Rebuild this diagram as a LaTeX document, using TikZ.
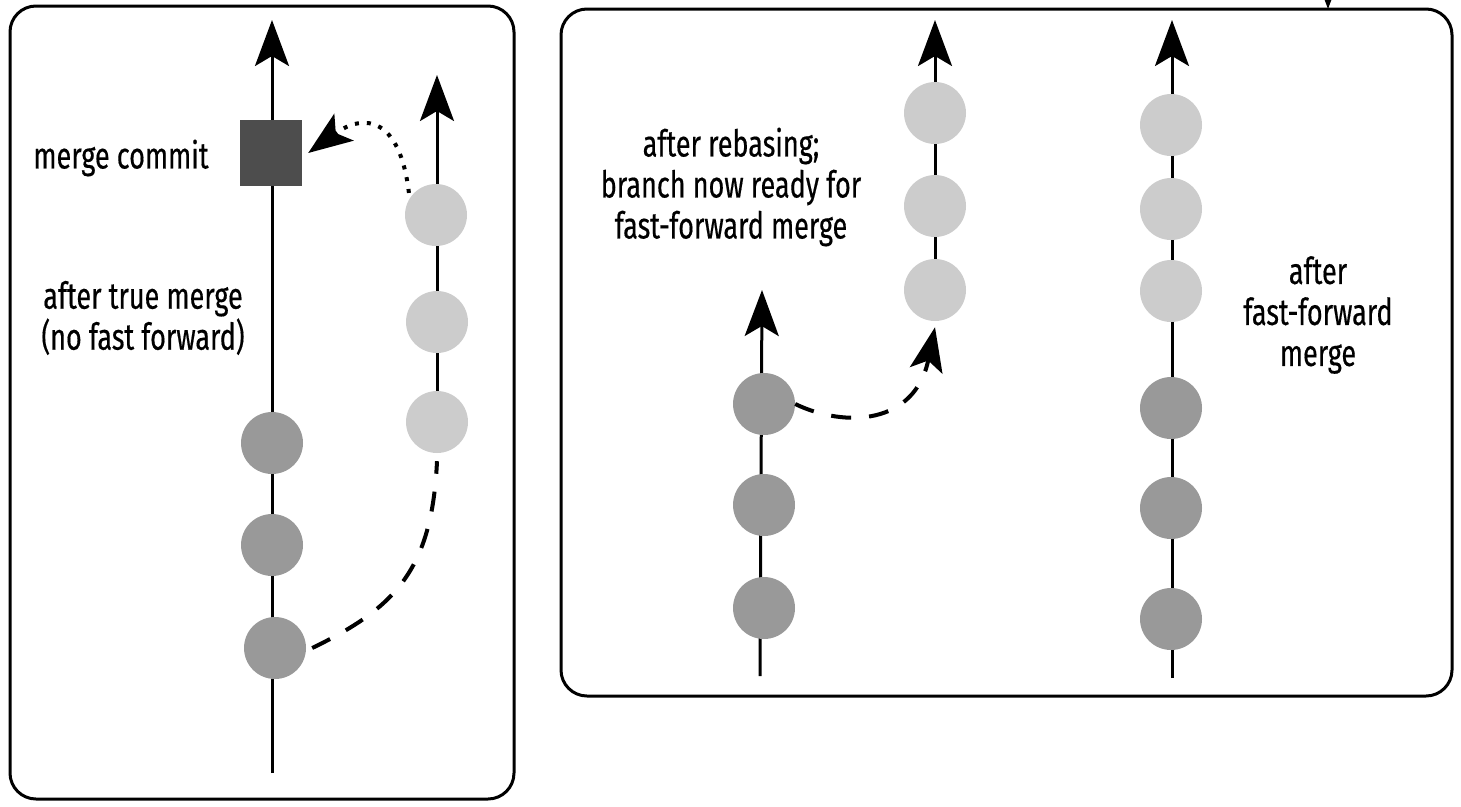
\documentclass[tikz,border=0pt]{standalone}
\usepackage{fontspec}
\setmainfont[FakeStretch=0.73, FakeBold=0.4]{Fira Sans}
\usepackage{xcolor}
\usetikzlibrary{arrows.meta}

\definecolor{oldgray}{HTML}{999999}
\definecolor{newgray}{HTML}{CCCCCC}
\definecolor{mergegray}{HTML}{4D4D4D}

\tikzset{
  panel/.style={draw, line width=3pt, rounded corners=26pt},
  history/.style={line width=3pt, -{Stealth[length=46pt, width=34pt, inset=10pt]}},
  oldcommit/.style={circle, fill=oldgray, minimum size=62pt, inner sep=0pt},
  newcommit/.style={circle, fill=newgray, minimum size=62pt, inner sep=0pt},
  label/.style={align=center, font=\fontsize{37}{41}\selectfont}
}

\begin{document}
\begin{tikzpicture}[x=1pt, y=-1pt]
  \useasboundingbox (0,0) rectangle (1461,806);

  % the two panels
  \draw[panel] (10,6) rectangle (514,799);
  \draw[panel] (561,9) rectangle (1452,696);
  \draw[history] (1328,-40) -- (1328,9);

  % left panel: history lines
  \coordinate (mainlow) at (272,773);
  \coordinate (maintop) at (272,20);
  \coordinate (sidelow) at (437,430);
  \coordinate (sidetop) at (437,75);
  \draw[history] (mainlow) -- (maintop);
  \draw[history] (sidelow) -- (sidetop);

  % left panel: commits
  \node[fill=mergegray, minimum width=62pt, minimum height=66pt, inner sep=0pt] (merge) at (271,153) {};
  \node[oldcommit] (b1) at (272,443) {};
  \node[oldcommit] (b2) at (272,545) {};
  \node[oldcommit] (b3) at (275,648) {};
  \node[newcommit] (s1) at (436,215) {};
  \node[newcommit] (s2) at (437,322) {};
  \node[newcommit] (s3) at (437,422) {};

  \node[label] (mergetxt) at (121,158) {merge commit};
  \node[label] (truetxt) at (143,318) {after true merge\\(no fast forward)};

  % left panel: branch and merge connectors
  \draw[line width=4pt, dash pattern=on 20pt off 18pt]
    ([xshift=6pt]b3.east) .. controls (395,608) and (432,570) .. ([yshift=-8pt]s3.south);
  \draw[line width=4pt, dash pattern=on 4pt off 8pt, -{Stealth[length=44pt, width=33pt, inset=10pt]}]
    ([xshift=-5pt]s1.north west) .. controls (400,118) and (365,112) .. ([xshift=6pt]merge.east);

  % right panel: history lines
  \coordinate (baselow) at (760,676);
  \coordinate (basetop) at (762,290);
  \coordinate (rebaselow) at (935,320);
  \coordinate (rebasetop) at (935,20);
  \coordinate (fflow) at (1172,678);
  \coordinate (fftop) at (1172,20);
  \draw[history] (baselow) -- (basetop);
  \draw[history] (rebaselow) -- (rebasetop);
  \draw[history] (fflow) -- (fftop);

  % right panel: commits
  \node[oldcommit] (r1) at (764,404) {};
  \node[oldcommit] (r2) at (764,505) {};
  \node[oldcommit] (r3) at (764,608) {};
  \node[newcommit] (n1) at (935,113) {};
  \node[newcommit] (n2) at (935,206) {};
  \node[newcommit] (n3) at (935,290) {};
  \node[newcommit] (f1) at (1171,125) {};
  \node[newcommit] (f2) at (1171,209) {};
  \node[newcommit] (f3) at (1171,291) {};
  \node[oldcommit] (f4) at (1171,408) {};
  \node[oldcommit] (f5) at (1171,508) {};
  \node[oldcommit] (f6) at (1171,619) {};

  \draw[line width=4pt, dash pattern=on 20pt off 18pt, -{Stealth[length=44pt, width=33pt, inset=10pt]}]
    (r1.east) .. controls (845,428) and (915,425) .. ([yshift=-6pt]n3.south);

  \node[label] (rebasetxt) at (731,187) {after rebasing;\\branch now ready for\\fast-forward merge};
  \node[label] (fftxt) at (1318,315) {after\\fast-forward\\merge};
\end{tikzpicture}
\end{document}
